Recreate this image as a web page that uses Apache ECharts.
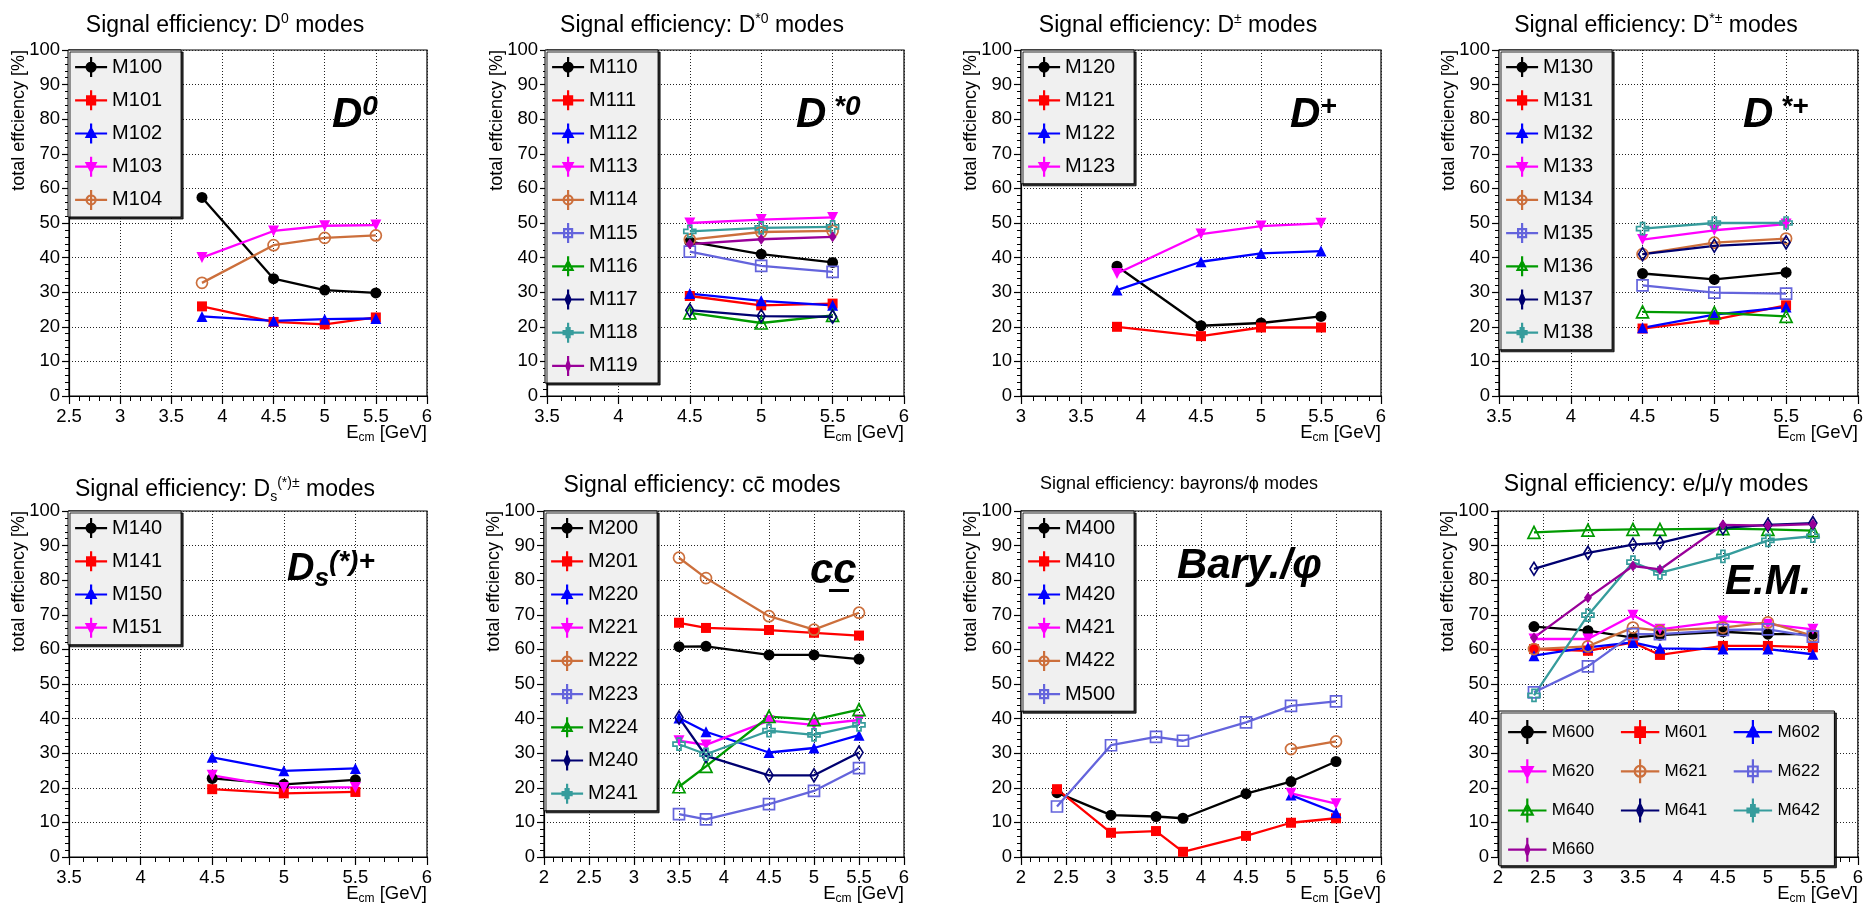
<!DOCTYPE html>
<html>
<head>
<meta charset="utf-8">
<script src="https://cdn.jsdelivr.net/npm/echarts@6/dist/echarts.min.js"></script>
<style>
  html, body { margin: 0; padding: 0; background: #fff; }
  #chart { width: 1866px; height: 904px; }
</style>
</head>
<body>
<div id="chart"></div>
<script>
// ---- Beam energies (GeV) per mode group ----
const ecmD0   = [3.8, 4.5, 5.0, 5.5];
const ecmDst0 = [4.5, 5.0, 5.5];
const ecmDpm  = [3.8, 4.5, 5.0, 5.5];
const ecmDstp = [4.5, 5.0, 5.5];
const ecmDs   = [4.5, 5.0, 5.5];
const ecmCC   = [3.5, 3.8, 4.5, 5.0, 5.5];
const ecmBary = [2.4, 3.0, 3.5, 3.8, 4.5, 5.0, 5.5];
const ecmPhi  = [5.0, 5.5];
const ecmEM   = [2.4, 3.0, 3.5, 3.8, 4.5, 5.0, 5.5];

// ---- Total signal efficiency [%] per decay mode ----
// D0 modes
const M100 = [57.4, 33.9, 30.6, 29.8];
const M101 = [25.9, 21.4, 20.7, 22.7];
const M102 = [23.0, 21.7, 22.2, 22.4];
const M103 = [40.0, 47.7, 49.2, 49.4];
const M104 = [32.7, 43.6, 45.7, 46.4];
// D*0 modes
const M110 = [44.6, 41.0, 38.6];
const M111 = [28.9, 26.2, 26.7];
const M112 = [29.6, 27.5, 26.2];
const M113 = [50.0, 51.0, 51.6];
const M114 = [45.2, 47.4, 47.7];
const M115 = [41.7, 37.6, 35.9];
const M116 = [24.0, 21.1, 23.3];
const M117 = [24.8, 23.1, 22.9];
const M118 = [47.6, 48.6, 48.9];
const M119 = [43.9, 45.3, 46.0];
// D+- modes
const M120 = [37.5, 20.3, 21.1, 23.0];
const M121 = [20.0, 17.3, 19.8, 19.8];
const M122 = [30.6, 38.8, 41.2, 41.9];
const M123 = [35.4, 46.8, 49.1, 49.9];
// D*+- modes
const M130 = [35.4, 33.7, 35.7];
const M131 = [19.5, 22.1, 26.2];
const M132 = [19.7, 23.5, 25.7];
const M133 = [45.2, 47.9, 49.7];
const M134 = [41.0, 44.3, 45.5];
const M135 = [32.0, 29.9, 29.6];
const M136 = [24.3, 24.0, 23.0];
const M137 = [41.0, 43.4, 44.4];
const M138 = [48.4, 50.0, 50.0];
// Ds(*) modes
const M140 = [22.7, 21.0, 22.3];
const M141 = [19.6, 18.4, 18.8];
const M150 = [28.8, 24.9, 25.6];
const M151 = [23.6, 20.1, 20.1];
// charmonium modes
const M200 = [60.8, 60.9, 58.4, 58.4, 57.2];
const M201 = [67.7, 66.2, 65.6, 64.8, 64.0];
const M220 = [40.2, 36.2, 30.2, 31.5, 35.2];
const M221 = [33.6, 32.4, 39.4, 38.2, 39.6];
const M222 = [86.5, 80.6, 69.6, 65.7, 70.6];
const M223 = [12.4, 10.9, 15.3, 19.1, 25.7];
const M224 = [20.3, 26.2, 40.6, 39.7, 42.6];
const M240 = [40.3, 29.2, 23.6, 23.6, 30.2];
const M241 = [32.6, 29.7, 36.5, 35.3, 38.2];
// baryon / phi modes
const M400 = [18.6, 12.1, 11.7, 11.2, 18.3, 21.8, 27.6];
const M410 = [19.6, 7.0, 7.5, 1.5, 6.1, 9.9, 11.2];
const M420 = [17.9, 12.8];
const M421 = [18.4, 15.4];
const M422 = [31.2, 33.4];
const M500 = [14.6, 32.3, 34.7, 33.6, 38.9, 43.7, 45.0];
// e / mu / gamma modes
const M600 = [66.6, 65.4, 63.4, 64.1, 65.1, 64.4, 64.4];
const M601 = [60.1, 59.6, 62.0, 58.4, 61.0, 61.0, 60.6];
const M602 = [58.2, 60.6, 62.0, 60.3, 60.1, 60.1, 58.6];
const M620 = [63.0, 63.0, 69.9, 65.8, 68.2, 67.3, 65.8];
const M621 = [60.1, 60.9, 66.3, 65.4, 66.3, 67.8, 63.9];
const M622 = [47.6, 55.1, 64.4, 64.4, 65.6, 65.8, 63.7];
const M640 = [93.8, 94.5, 94.7, 94.7, 94.9, 94.7, 94.3];
const M641 = [83.3, 87.9, 90.3, 90.8, 95.1, 96.0, 96.5];
const M642 = [46.7, 69.9, 85.2, 82.1, 86.9, 91.5, 92.7];
const M660 = [63.4, 74.9, 84.1, 83.1, 96.0, 95.8, 96.2];

// Axis tick values
const yTicksMin = 0, yTicksMax = 100, yTickStep = 10;
const xTickStep = 0.5, xMax = 6;

// ---- Marker styles (ROOT-like palette) ----
const FONT = '"Liberation Sans", Arial, Helvetica, sans-serif';
const CROSS = 'path://M3 0 L6 0 L6 3 L9 3 L9 6 L6 6 L6 9 L3 9 L3 6 L0 6 L0 3 L3 3 Z';
const STYLES = [
  { color: '#000000', symbol: 'circle',   size: 11,      open: false, mk: 'circle' },
  { color: '#ff0000', symbol: 'rect',     size: 10,      open: false, mk: 'square' },
  { color: '#0000ff', symbol: 'triangle', size: 11,      open: false, mk: 'up' },
  { color: '#ff00ff', symbol: 'triangle', size: 11,      open: false, mk: 'down', rotate: 180 },
  { color: '#cc6f3c', symbol: 'circle',   size: 11,      open: true,  mk: 'circle' },
  { color: '#6464dc', symbol: 'rect',     size: 11,      open: true,  mk: 'square' },
  { color: '#009a00', symbol: 'triangle', size: 12,      open: true,  mk: 'up' },
  { color: '#000070', symbol: 'diamond',  size: [8, 13], open: true,  mk: 'diamond' },
  { color: '#369c9c', symbol: CROSS,      size: 12,      open: true,  mk: 'cross' },
  { color: '#990099', symbol: 'diamond',  size: [8, 11], open: false, mk: 'star' }
];

// Legend glyph: line + vertical error bar + marker (box 32 x 20)
function iconPath(mk) {
  const bars = 'M0 10 L32 10 M16 0 L16 20 ';
  const shapes = {
    circle: 'M20.5 10 A4.5 4.5 0 1 1 11.5 10 A4.5 4.5 0 1 1 20.5 10 Z',
    square: 'M12 6 L20 6 L20 14 L12 14 Z',
    up: 'M16 5 L20.5 13.5 L11.5 13.5 Z',
    down: 'M16 15 L20.5 6.5 L11.5 6.5 Z',
    diamond: 'M16 4.5 L18.5 10 L16 15.5 L13.5 10 Z',
    cross: 'M14.5 5.5 L17.5 5.5 L17.5 8.5 L20.5 8.5 L20.5 11.5 L17.5 11.5 L17.5 14.5 L14.5 14.5 L14.5 11.5 L11.5 11.5 L11.5 8.5 L14.5 8.5 Z',
    star: 'M16 5 L17.7 10 L16 15 L14.3 10 Z'
  };
  return 'path://' + bars + shapes[mk];
}

// ---- Panels: [name, energies, efficiencies, style index] ----
const panels = [
  {
    grid: { left: 69, top: 50, width: 358, height: 346 }, xMin: 2.5,
    title: '{t|Signal efficiency: D}{p|0}{t| modes}', titleX: 225, titleY: 26,
    tag: '{b|D}{p|0}', tagX: 332, tagY: 115,
    legend: { left: 68, top: 50 },
    series: [['M100', ecmD0, M100, 0], ['M101', ecmD0, M101, 1], ['M102', ecmD0, M102, 2],
             ['M103', ecmD0, M103, 3], ['M104', ecmD0, M104, 4]]
  },
  {
    grid: { left: 547, top: 50, width: 357, height: 346 }, xMin: 3.5,
    title: '{t|Signal efficiency: D}{p|*0}{t| modes}', titleX: 702, titleY: 26,
    tag: '{b|D}{p| *0}', tagX: 796, tagY: 115,
    legend: { left: 545, top: 50 },
    series: [['M110', ecmDst0, M110, 0], ['M111', ecmDst0, M111, 1], ['M112', ecmDst0, M112, 2],
             ['M113', ecmDst0, M113, 3], ['M114', ecmDst0, M114, 4], ['M115', ecmDst0, M115, 5],
             ['M116', ecmDst0, M116, 6], ['M117', ecmDst0, M117, 7], ['M118', ecmDst0, M118, 8],
             ['M119', ecmDst0, M119, 9]]
  },
  {
    grid: { left: 1021, top: 50, width: 360, height: 346 }, xMin: 3,
    title: '{t|Signal efficiency: D}{p|±}{t| modes}', titleX: 1178, titleY: 26,
    tag: '{b|D}{p|+}', tagX: 1290, tagY: 115,
    legend: { left: 1021, top: 50 },
    series: [['M120', ecmDpm, M120, 0], ['M121', ecmDpm, M121, 1], ['M122', ecmDpm, M122, 2],
             ['M123', ecmDpm, M123, 3]]
  },
  {
    grid: { left: 1499, top: 50, width: 359, height: 346 }, xMin: 3.5,
    title: '{t|Signal efficiency: D}{p|*±}{t| modes}', titleX: 1656, titleY: 26,
    tag: '{b|D}{p| *+}', tagX: 1743, tagY: 115,
    legend: { left: 1499, top: 50 },
    series: [['M130', ecmDstp, M130, 0], ['M131', ecmDstp, M131, 1], ['M132', ecmDstp, M132, 2],
             ['M133', ecmDstp, M133, 3], ['M134', ecmDstp, M134, 4], ['M135', ecmDstp, M135, 5],
             ['M136', ecmDstp, M136, 6], ['M137', ecmDstp, M137, 7], ['M138', ecmDstp, M138, 8]]
  },
  {
    grid: { left: 69, top: 511, width: 358, height: 346 }, xMin: 3.5,
    title: '{t|Signal efficiency: D}{s|s}{p|(*)±}{t| modes}', titleX: 225, titleY: 490,
    tag: '{b|D}{s|s}{p|(*)+}', tagX: 287, tagY: 570, tagSize: 38,
    legend: { left: 68, top: 511 },
    series: [['M140', ecmDs, M140, 0], ['M141', ecmDs, M141, 1], ['M150', ecmDs, M150, 2],
             ['M151', ecmDs, M151, 3]]
  },
  {
    grid: { left: 544, top: 511, width: 360, height: 346 }, xMin: 2,
    title: '{t|Signal efficiency: cc\u0304 modes}', titleX: 702, titleY: 486,
    tag: '{b|cc}', tagX: 810, tagY: 571, tagSize: 42, underline: [829, 589, 20],
    legend: { left: 544, top: 511 },
    series: [['M200', ecmCC, M200, 0], ['M201', ecmCC, M201, 1], ['M220', ecmCC, M220, 2],
             ['M221', ecmCC, M221, 3], ['M222', ecmCC, M222, 4], ['M223', ecmCC, M223, 5],
             ['M224', ecmCC, M224, 6], ['M240', ecmCC, M240, 7], ['M241', ecmCC, M241, 8]]
  },
  {
    grid: { left: 1021, top: 511, width: 360, height: 346 }, xMin: 2,
    title: '{t|Signal efficiency: bayrons/ϕ modes}', titleX: 1179, titleY: 484, titleSize: 18,
    tag: '{b|Bary./φ}', tagX: 1177, tagY: 566,
    legend: { left: 1021, top: 511 },
    series: [['M400', ecmBary, M400, 0], ['M410', ecmBary, M410, 1], ['M420', ecmPhi, M420, 2],
             ['M421', ecmPhi, M421, 3], ['M422', ecmPhi, M422, 4], ['M500', ecmBary, M500, 5]]
  },
  {
    grid: { left: 1498, top: 511, width: 360, height: 346 }, xMin: 2,
    title: '{t|Signal efficiency: e/μ/γ modes}', titleX: 1656, titleY: 485,
    tag: '{b|E.M.}', tagX: 1725, tagY: 582,
    legend: { left: 1499, top: 711, wide: true },
    series: [['M600', ecmEM, M600, 0], ['M601', ecmEM, M601, 1], ['M602', ecmEM, M602, 2],
             ['M620', ecmEM, M620, 3], ['M621', ecmEM, M621, 4], ['M622', ecmEM, M622, 5],
             ['M640', ecmEM, M640, 6], ['M641', ecmEM, M641, 7], ['M642', ecmEM, M642, 8],
             ['M660', ecmEM, M660, 9]]
  }
];

const grids = [], xAxes = [], yAxes = [], series = [], legends = [], graphics = [];

function axisStyle(tickLen, minorLen, labelMargin) {
  return {
    axisLine: { show: true, onZero: false, lineStyle: { color: '#000', width: 1.2 } },
    axisTick: { show: true, inside: false, length: tickLen, lineStyle: { color: '#000', width: 1.2 } },
    minorTick: { show: true, splitNumber: 5, length: minorLen, lineStyle: { color: '#000', width: 1 } },
    splitLine: { show: true, lineStyle: { color: '#222', width: 1, type: [1, 2] } },
    axisLabel: { color: '#000', fontSize: 18.5, fontFamily: FONT, margin: labelMargin }
  };
}

panels.forEach((p, gi) => {
  const g = p.grid;
  grids.push({ left: g.left, top: g.top, width: g.width, height: g.height,
               show: true, borderColor: '#000', borderWidth: 1.2, backgroundColor: 'transparent' });

  xAxes.push(Object.assign(axisStyle(8, 5, 11), {
    type: 'value', gridIndex: gi, min: p.xMin, max: xMax, interval: xTickStep
  }));
  yAxes.push(Object.assign(axisStyle(7, 4, 9), {
    type: 'value', gridIndex: gi, min: yTicksMin, max: yTicksMax, interval: yTickStep
  }));

  const legendData = [];
  p.series.forEach(([name, xs, ys, si]) => {
    const st = STYLES[si];
    series.push({
      type: 'line', name: name, xAxisIndex: gi, yAxisIndex: gi,
      data: xs.map((x, i) => [x, ys[i]]),
      symbol: st.symbol, symbolSize: st.size, symbolRotate: st.rotate || 0,
      showSymbol: true, showAllSymbol: true,
      lineStyle: { color: st.color, width: 2.3 },
      itemStyle: { color: st.open ? 'rgba(0,0,0,0)' : st.color, borderColor: st.color,
                   borderWidth: st.open ? 1.7 : 0 },
      silent: true
    });
    legendData.push({
      name: name, icon: iconPath(st.mk),
      itemStyle: { color: st.open ? 'rgba(0,0,0,0)' : st.color, borderColor: st.color, borderWidth: 2.2 }
    });
  });

  const legendBox = {
    left: p.legend.left, top: p.legend.top, selectedMode: false,
    backgroundColor: '#f0f0f0', borderColor: '#000', borderWidth: 1,
    shadowColor: 'rgba(0,0,0,0.8)', shadowOffsetX: 2, shadowOffsetY: 2, shadowBlur: 0,
    data: legendData
  };
  if (p.legend.wide) {
    Object.assign(legendBox, {
      orient: 'horizontal', width: 330, padding: [8, 2, 3, 8],
      itemWidth: 39, itemHeight: 24, itemGap: 13,
      textStyle: { fontSize: 17, lineHeight: 24, width: 55, color: '#000', fontFamily: FONT }
    });
  } else {
    Object.assign(legendBox, {
      orient: 'vertical', padding: [6, 17, 6, 6],
      itemWidth: 32, itemHeight: 20, itemGap: 11,
      textStyle: { fontSize: 20, lineHeight: 20, width: 52, color: '#000', fontFamily: FONT }
    });
  }
  legends.push(legendBox);

  // Panel title
  const ts = p.titleSize || 23;
  graphics.push({
    type: 'text', x: p.titleX, y: p.titleY, z: 10,
    style: {
      text: p.title, align: 'center', verticalAlign: 'middle', fill: '#000',
      rich: {
        t: { fontSize: ts, fontFamily: FONT, lineHeight: 28, verticalAlign: 'middle', fill: '#000' },
        p: { fontSize: 14, fontFamily: FONT, lineHeight: 14, verticalAlign: 'top', fill: '#000' },
        s: { fontSize: 14, fontFamily: FONT, lineHeight: 14, verticalAlign: 'bottom', fill: '#000' }
      }
    }
  });

  // Y axis title (right-adjusted at the top of the axis)
  graphics.push({
    type: 'text', x: g.left - 50, y: g.top, rotation: Math.PI / 2, z: 10,
    style: { text: 'total effciency [%]', align: 'right', verticalAlign: 'middle',
             fontSize: 18, fontFamily: FONT, fill: '#000' }
  });

  // X axis title (right-adjusted at the end of the axis)
  graphics.push({
    type: 'text', x: g.left + g.width, y: g.top + g.height + 37, z: 10,
    style: {
      text: '{n|E}{c|cm}{n| [GeV]}', align: 'right', verticalAlign: 'middle',
      rich: {
        n: { fontSize: 18.5, fontFamily: FONT, lineHeight: 22, verticalAlign: 'middle', fill: '#000' },
        c: { fontSize: 12, fontFamily: FONT, lineHeight: 12, verticalAlign: 'bottom', fill: '#000' }
      }
    }
  });

  // Group label
  const bs = p.tagSize || 42;
  graphics.push({
    type: 'text', x: p.tagX, y: p.tagY, z: 10,
    style: {
      text: p.tag, align: 'left', verticalAlign: 'middle',
      rich: {
        b: { fontSize: bs, fontWeight: 'bold', fontStyle: 'italic', fontFamily: FONT,
             lineHeight: 44, verticalAlign: 'middle', fill: '#000' },
        p: { fontSize: 28, fontWeight: 'bold', fontStyle: 'italic', fontFamily: FONT,
             lineHeight: 28, verticalAlign: 'top', fill: '#000' },
        s: { fontSize: 26, fontWeight: 'bold', fontStyle: 'italic', fontFamily: FONT,
             lineHeight: 14, verticalAlign: 'bottom', fill: '#000' }
      }
    }
  });
  if (p.underline) {
    const [ux, uy, uw] = p.underline;
    graphics.push({ type: 'rect', z: 10, shape: { x: ux, y: uy, width: uw, height: 3 },
                    style: { fill: '#000' } });
  }
});

const chart = echarts.init(document.getElementById('chart'), null, { renderer: 'canvas' });
chart.setOption({
  animation: false,
  backgroundColor: '#ffffff',
  textStyle: { fontFamily: FONT },
  grid: grids,
  xAxis: xAxes,
  yAxis: yAxes,
  legend: legends,
  series: series,
  graphic: graphics
});
</script>
</body>
</html>
